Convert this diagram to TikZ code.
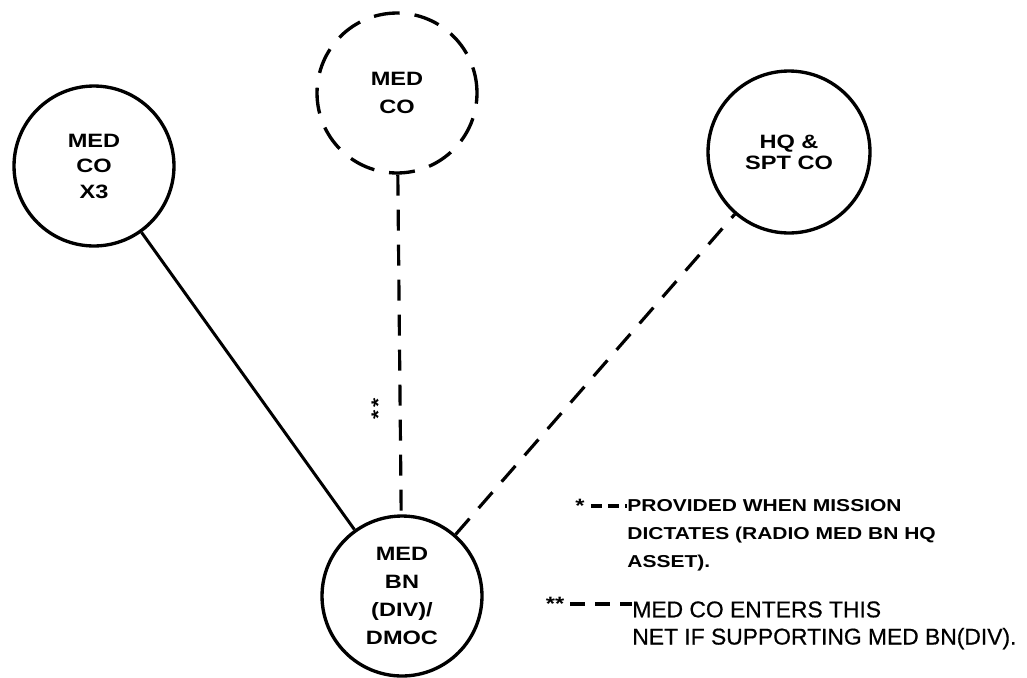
\documentclass[tikz,border=0pt]{standalone}
\usepackage{fontspec}
\setmainfont{Liberation Sans}
\newfontfamily\widefont[FakeStretch=1.22]{Liberation Sans}
\newfontfamily\notefont[FakeBold=0.6]{Liberation Sans}
\usetikzlibrary{positioning}

\begin{document}
\begin{tikzpicture}[
    x=0.02cm, y=-0.02cm,
    every node/.style={font=\widefont\bfseries\fontsize{11}{16}\selectfont},
    unit/.style={draw, circle, line width=1.9pt, align=center, inner sep=0pt, minimum size=3.2cm},
    attached/.style={unit, dash pattern=on 0.52cm off 0.3cm},
    net/.style={line width=1.7pt},
    optional/.style={line width=1.8pt, dash pattern=on 0.42cm off 0.28cm},
    key/.style={line width=1.8pt, dash pattern=on 0.22cm off 0.12cm},
    note/.style={align=left, anchor=north west, inner sep=0pt}
]
\useasboundingbox (0,0) rectangle (1027,677);
% company and battalion circles
\node[unit, font=\widefont\bfseries\fontsize{11}{14.5}\selectfont] (medcoX) at (94,166) {MED\\CO\\X3};
\node[attached] (medco) at (397,93) {MED\\CO};
\node[unit, font=\widefont\bfseries\fontsize{11}{12}\selectfont, minimum size=3.24cm] (hqspt) at (789,152) {HQ \&\\SPT CO};
\node[unit] (medbn) at (402,596) {MED\\BN\\(DIV)/\\DMOC};
% net links
\draw[net] (medcoX) -- (medbn);
\draw[optional] (medco) -- coordinate[pos=0.69] (tag) (medbn);
\node[rotate=90, inner sep=0pt] (tagmark) at ([xshift=-0.44cm]tag) {*\,*};
\draw[optional] (medbn) -- (hqspt);
% notes
\node[note, font=\widefont\bfseries\fontsize{9.8}{16}\selectfont] (note1) at (627,499) {PROVIDED WHEN MISSION\\DICTATES (RADIO MED BN HQ\\ASSET).};
\node (star1) at (580,506) {*};
\draw[key] (star1.east) -- (star1.east -| note1.west);
\node[note, font=\notefont\fontsize{13}{15.5}\selectfont] (note2) at (632,601) {MED CO ENTERS THIS\\NET IF SUPPORTING MED BN(DIV).};
\node (star2) at (555,604) {**};
\draw[key, dash pattern=on 0.3cm off 0.2cm] (star2.east) -- (star2.east -| note2.west);
\end{tikzpicture}
\end{document}
